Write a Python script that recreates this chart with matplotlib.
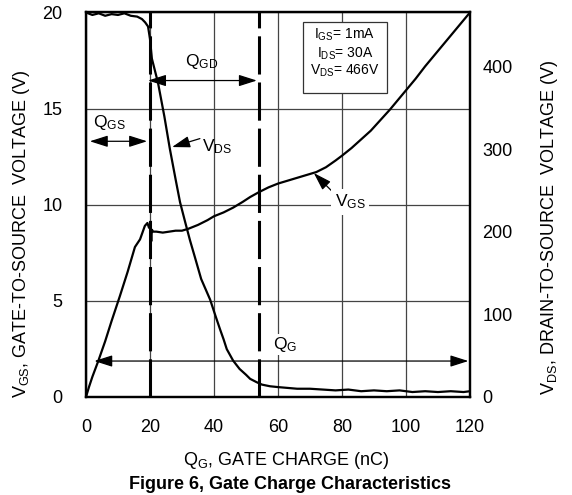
import matplotlib
matplotlib.use('Agg')
import matplotlib.pyplot as plt
from matplotlib.patches import Rectangle

plt.rcParams['font.family'] = ['Liberation Sans', 'DejaVu Sans']
plt.rcParams['mathtext.default'] = 'regular'

# V_GS curve (left axis, V) vs gate charge (nC)
qg_vgs = [0, 1, 2, 3.8, 6, 8, 10.6, 13, 15.3, 16.9, 18.4, 19.2, 19.7, 20.1, 20.4, 20.6,
          21, 22, 24, 26, 28, 30, 32, 35, 38, 40, 43, 46, 49, 51.3, 54, 57, 60, 63,
          66, 69, 72, 75, 78, 80, 83, 86, 89, 92, 95, 98, 100, 103, 106, 109, 112,
          115, 118, 120]
vgs = [0, 0.55, 1.05, 1.85, 2.9, 3.95, 5.25, 6.5, 7.8, 8.2, 8.9, 9.05, 8.8, 9.0, 8.1, 8.7,
       8.6, 8.6, 8.55, 8.6, 8.65, 8.65, 8.75, 8.95, 9.2, 9.4, 9.6, 9.85, 10.15, 10.4,
       10.65, 10.9, 11.1, 11.25, 11.4, 11.55, 11.7, 11.95, 12.3, 12.55, 12.95, 13.4,
       13.85, 14.4, 14.95, 15.55, 15.95, 16.55, 17.2, 17.8, 18.4, 19.0, 19.6, 20.0]

# V_DS curve (right axis, V) vs gate charge (nC)
qg_vds = [0, 2, 4, 6, 8, 10, 12, 14, 16, 17.5, 18.5, 19.4, 20, 20.6, 22.5, 24.5, 26.2,
          28, 29.4, 31, 32.5, 34, 36, 38.8, 40.5, 41.9, 43, 44, 46, 48, 50, 51.3, 53.3,
          55, 57.5, 60, 63, 66, 70, 74, 78, 82, 86, 90, 94, 98, 102, 106, 110, 114,
          118, 120]
vds = [466, 463, 465, 462, 464, 463, 465, 462, 461, 458, 454, 449, 434, 410, 381, 340,
       301, 264, 236, 212, 190, 170, 143, 118, 98, 82, 70, 58, 44, 34, 27, 22, 18, 15,
       13, 12, 11, 10, 10, 9, 8, 9, 7, 8, 7, 8, 6, 7, 6, 7, 6, 7]

# charge markers (nC)
qgs_end = 20
qgd_end = 54

# test conditions
conditions = ['I$_{GS}$= 1mA', 'I$_{DS}$= 30A', 'V$_{DS}$= 466V']

fig = plt.figure(figsize=(5.72, 4.95), dpi=100)
ax = fig.add_axes([0.1503, 0.198, 0.6713, 0.7768])
ax2 = ax.twinx()

ax.set_xlim(0, 120)
ax.set_ylim(0, 20)
ax2.set_ylim(0, 466)
ax.set_xticks(range(0, 121, 20))
ax.set_yticks(range(0, 21, 5))
ax2.set_yticks(range(0, 401, 100))
ax.grid(True, color='#444444', lw=0.9)
ax.set_axisbelow(True)
ax.tick_params(length=0, labelsize=13)
ax.tick_params(axis='y', pad=17)
ax.tick_params(axis='x', pad=16)
ax2.tick_params(length=0, labelsize=13, pad=9)
for a in (ax, ax2):
    for s in a.spines.values():
        s.set_linewidth(1.6)

# curves
ax.plot(qg_vgs, vgs, color='black', lw=1.6, zorder=3)
ax2.plot(qg_vds, vds, color='black', lw=1.6)

# dashed charge markers
for q in (qgs_end, qgd_end):
    ax.axvline(q, color='black', lw=2.2, linestyle=(0, (12.5, 2.6)), zorder=2)

arrow = dict(arrowstyle='<|-|>,head_length=1.1,head_width=0.35', color='black',
             lw=0.9, shrinkA=0, shrinkB=0, mutation_scale=10)
single = dict(arrowstyle='-|>,head_length=1.1,head_width=0.35', color='black',
              lw=0.9, shrinkA=0, shrinkB=0, mutation_scale=10)

# Q_GS
ax.annotate('', xy=(1.2, 13.3), xytext=(19.1, 13.3), arrowprops=arrow)
ax.text(2.2, 14.06, 'Q$_{GS}$', fontsize=12.5)
# Q_GD
ax.annotate('', xy=(19.4, 16.46), xytext=(53.4, 16.46), arrowprops=arrow)
ax.text(31, 17.2, 'Q$_{GD}$', fontsize=12.5)
# Q_G
ax.annotate('', xy=(2.6, 1.87), xytext=(119.5, 1.87), arrowprops=arrow)
ax.text(58.4, 2.5, 'Q$_{G}$', fontsize=12.5,
        bbox=dict(facecolor='white', edgecolor='none', pad=1))
# V_DS label
ax.annotate('', xy=(26.9, 13.0), xytext=(35.6, 13.44), arrowprops=single)
ax.text(36.3, 12.8, 'V$_{DS}$', fontsize=12.5)
# V_GS label
ax.annotate('', xy=(71.2, 11.65), xytext=(76.9, 10.7), arrowprops=single)
ax.text(77.8, 9.9, 'V$_{GS}$', fontsize=12.5,
        bbox=dict(facecolor='white', edgecolor='none', pad=2.5))

# conditions box
ax.add_patch(Rectangle((67.8, 15.83), 26.2, 3.65, facecolor='white',
                       edgecolor='#333333', lw=0.9, zorder=4))
for txt, yb in zip(conditions, [18.65, 17.66, 16.77]):
    ax.text(80.9, yb, txt, fontsize=10, ha='center', va='baseline', zorder=5)

# axis labels
fig.text(0.5, 0.0606, 'Q$_{G}$, GATE CHARGE (nC)', fontsize=13, ha='center',
         va='baseline')
fig.text(0.507, 0.0121, 'Figure 6, Gate Charge Characteristics', fontsize=13,
         fontweight='bold', ha='center', va='baseline')
fig.text(0.038, 0.529, 'V$_{GS}$, GATE-TO-SOURCE  VOLTAGE (V)', fontsize=13,
         rotation=90, ha='center', va='center')
fig.text(0.96, 0.54, 'V$_{DS}$, DRAIN-TO-SOURCE  VOLTAGE (V)', fontsize=13,
         rotation=90, ha='center', va='center')

fig.savefig('out.png', dpi=100)
